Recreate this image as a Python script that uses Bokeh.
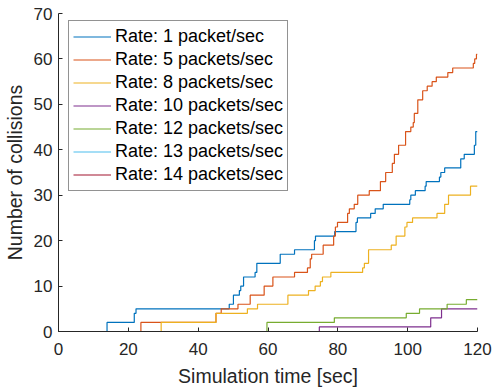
from bokeh.plotting import figure
from bokeh.models import Range1d, Legend, LegendItem, FixedTicker
from bokeh.embed import file_html
from bokeh.resources import INLINE

# ---- data ----
rate1_t = [0, 13.9, 21.7, 22.2, 48.9, 50.1, 51.8, 52.2, 53.0, 56.3, 56.8, 63.5, 67.6, 73.3, 73.6, 79.1,
           85.2, 85.6, 89.4, 90.7, 93.0, 100.6, 100.9, 102.2, 105.0, 105.3, 109.1, 109.5, 110.6, 115.2,
           116.2, 119.1, 119.5, 120]
rate1_n = [0, 2, 4, 5, 6, 8, 9, 10, 12, 13, 15, 17, 18, 20, 21, 22, 24, 25, 26, 27, 28, 29, 30, 31, 32,
           33, 34, 35, 36, 38, 39, 41, 44, 44]

rate5_t = [0, 23.6, 45.1, 46.6, 51.4, 54.9, 58.9, 61.4, 67.6, 71.3, 72.1, 72.5, 75.8, 78.8, 79.3, 79.9,
           82.8, 83.3, 84.7, 85.7, 89.0, 92.2, 93.7, 95.6, 96.2, 97.4, 99.4, 100.9, 101.6, 101.9, 102.9,
           104.3, 105.6, 107.0, 108.2, 111.5, 112.9, 118.8, 119.2, 119.7, 120]
rate5_n = [0, 2, 4, 5, 6, 8, 10, 12, 13, 14, 16, 17, 19, 21, 23, 24, 26, 27, 28, 30, 31, 33, 35, 37, 39,
           41, 44, 45, 46, 48, 51, 53, 54, 55, 56, 57, 58, 59, 60, 61, 61]

rate8_t = [0, 29.4, 45.1, 54.1, 57.0, 65.7, 71.6, 73.5, 75.0, 75.6, 78.0, 87.1, 87.6, 88.8, 95.3, 96.7,
           99.2, 99.8, 101.4, 108.4, 110.6, 111.7, 118.0, 120]
rate8_n = [0, 2, 4, 5, 6, 8, 9, 10, 11, 12, 13, 14, 15, 18, 19, 21, 23, 24, 25, 26, 28, 30, 32, 32]

rate10_t = [0, 74.7, 106.6, 109.7, 120]
rate10_n = [0, 1, 3, 5, 5]

rate12_t = [0, 59.7, 79.0, 99.6, 103.4, 111.3, 116.8, 120]
rate12_n = [0, 2, 3, 4, 5, 6, 7, 7]

rate13_t = [0, 120]
rate13_n = [0, 0]

rate14_t = [0, 120]
rate14_n = [0, 0]

labels = ["Rate: 1 packet/sec", "Rate: 5 packets/sec", "Rate: 8 packets/sec",
          "Rate: 10 packets/sec", "Rate: 12 packets/sec", "Rate: 13 packets/sec",
          "Rate: 14 packets/sec"]
colors = ["#0072BD", "#D95319", "#EDB120", "#7E2F8E", "#77AC30", "#4DBEEE", "#A2142F"]
series = [(rate1_t, rate1_n), (rate5_t, rate5_n), (rate8_t, rate8_n), (rate10_t, rate10_n),
          (rate12_t, rate12_n), (rate13_t, rate13_n), (rate14_t, rate14_n)]

x_ticks = [0, 20, 40, 60, 80, 100, 120]
y_ticks = [0, 10, 20, 30, 40, 50, 60, 70]

FONT = "Liberation Sans"
AX = "#262626"

p = figure(width=492, height=389, output_backend="svg", toolbar_location=None,
           x_range=Range1d(0, 120), y_range=Range1d(0, 70),
           min_border_left=58, min_border_right=15, min_border_top=13, min_border_bottom=58)
p.outline_line_color = None
p.xgrid.visible = False
p.ygrid.visible = False
p.background_fill_color = "white"
p.border_fill_color = "white"

items = []
for (t, n), lab, c in zip(series, labels, colors):
    r = p.step(t, n, mode="after", line_color=c, line_width=1.2)
    items.append(LegendItem(label=lab, renderers=[r]))

for ax, ticks in ((p.xaxis, x_ticks), (p.yaxis, y_ticks)):
    ax.ticker = FixedTicker(ticks=ticks)
    ax.axis_line_color = AX
    ax.axis_line_width = 1
    ax.major_tick_line_color = AX
    ax.major_tick_in = 4
    ax.major_tick_out = 0
    ax.minor_tick_line_color = None
    ax.major_label_text_font = FONT
    ax.major_label_text_font_size = "17px"
    ax.major_label_text_color = AX
    ax.axis_label_text_font = FONT
    ax.axis_label_text_font_size = "19.5px"
    ax.axis_label_text_font_style = "normal"
    ax.axis_label_text_color = AX

p.xaxis.axis_label = "Simulation time [sec]"
p.yaxis.axis_label = "Number of collisions"
p.xaxis.major_label_standoff = 11
p.yaxis.major_label_standoff = 6
p.xaxis.axis_label_standoff = 7
p.yaxis.axis_label_standoff = 5

legend = Legend(items=items, location=(10, 140))
legend.label_text_font = FONT
legend.label_text_font_size = "18px"
legend.label_text_color = "#000000"
legend.glyph_width = 38
legend.glyph_height = 23
legend.label_height = 23
legend.label_standoff = 4
legend.padding = 4
legend.spacing = 0
legend.margin = 0
legend.border_line_color = AX
legend.border_line_width = 1
legend.background_fill_color = "white"
legend.background_fill_alpha = 1
p.add_layout(legend)

open("out.html", "w").write(file_html(p, INLINE))
